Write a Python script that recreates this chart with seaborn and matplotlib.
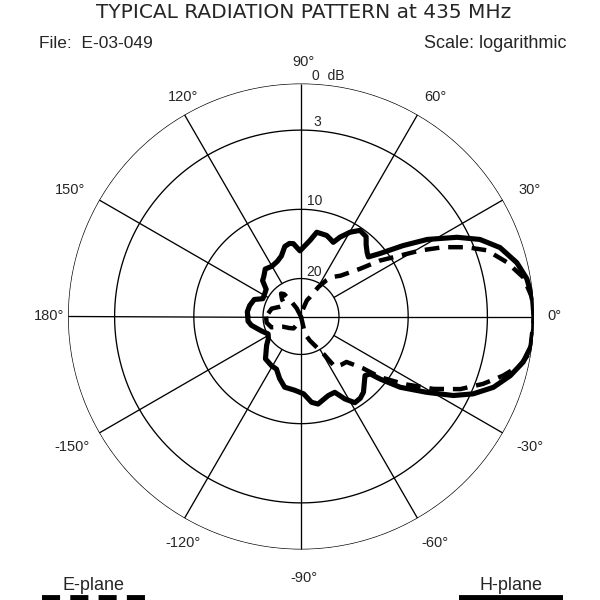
import numpy as np
import pandas as pd
import matplotlib
matplotlib.use("Agg")
import matplotlib.pyplot as plt
from matplotlib.lines import Line2D
import seaborn as sns

# ---------------- data ----------------
TITLE = "TYPICAL RADIATION PATTERN at 435 MHz"
FILE_LABEL = "File:  E-03-049"
SCALE_LABEL = "Scale: logarithmic"

# ring levels (dB below peak) and the logarithmic radius scale of the chart
RING_DB = [0, 3, 10, 20]
RING_LABELS = ["0  dB", "3", "10", "20"]
SCALE_DB = [0, 3, 10, 20, 30]
SCALE_R = [1.0, 0.80, 0.46, 0.163, 0.0]

ANGLE_TICKS = [0, 30, 60, 90, 120, 150, 180, -150, -120, -90, -60, -30]
ANGLE_LABELS = ["0°", "30°", "60°", "90°", "120°", "150°", "180°",
                "-150°", "-120°", "-90°", "-60°", "-30°"]

# H-plane (solid): angle in degrees, level in dB below peak
H_ANGLE = [-180, -175, -170, -160, -152, -146, -140, -130, -121, -115, -109, -103,
           -95, -88, -83, -79, -71, -66, -62, -58, -54, -50.5, -46, -42.7, -39.7,
           -38.3, -35.5, -31.1, -27.4, -24.2, -20.2, -15.8, -11.6, -7.2, -3, 0,
           4.4, 9.5, 14, 19.1, 23.3, 26.9, 31.4, 34.8, 38.6, 41.5, 44, 47.7, 50.8,
           55.6, 59.8, 63.8, 66.5, 69.5, 72.5, 79.4, 83.2, 90.9, 96, 99, 103, 108,
           113, 120, 127, 133, 137, 142, 148, 155, 160, 168, 175, 180]
H_DB = [17.8, 17.8, 18.2, 19.4, 20.2, 19.8, 19.0, 17.5, 17.2, 17.1, 16.0, 15.0,
        14.8, 14.3, 13.0, 12.6, 13.4, 13.5, 12.0, 10.8, 10.9, 11.3, 12.3, 12.9, 12.5,
        10.9, 8.7, 6.5, 4.3, 2.85, 1.8, 1.0, 0.4, 0.05, 0.0, 0.0,
        0.05, 0.26, 0.68, 1.44, 2.46, 4.0, 6.4, 8.5, 10.9, 12.5, 12.2, 11.5, 10.6,
        10.4, 11.4, 12.7, 13.8, 13.5, 13.2, 13.1, 14.4, 16.0, 14.9, 14.8, 15.1, 16.3,
        16.8, 17.1, 16.9, 17.6, 17.9, 19.1, 19.3, 19.4, 18.3, 17.9, 17.7, 17.8]

# E-plane (dashed)
E_ANGLE = [-180, -170, -160, -150, -135, -122, -115, -105, -85, -77, -70, -63, -59,
           -56, -50, -45, -40, -37.5, -33.3, -28.7, -24.5, -20.3, -16.3, -12.6,
           -8.9, 0, 5, 10, 14.8, 19.6, 22.7, 26, 29, 31.6, 35.3, 38.9, 46, 52, 55,
           59.5, 65, 70, 76, 80, 110, 118, 123, 127, 131, 138, 145, 155, 165, 180]
E_DB = [20.8, 20.8, 21.7, 24.6, 25.7, 26.3, 27.9, 35, 35, 25.3, 23.3, 20.9, 19.2,
        16.7, 16.4, 16.2, 13.9, 11.1, 8.6, 6.15, 4.0, 2.5, 1.44, 0.56,
        0.08, 0.0, 0.1, 0.47, 1.3, 2.3, 3.6, 5.5, 7.45, 9.2, 11.5, 14.5, 17.3, 18.25, 19.1,
        21.0, 24.3, 25.5, 28.2, 35, 35, 27.5, 25.3, 22.6, 22.0, 23.3, 24.8, 23.9, 22.0, 20.8]

LEGEND_E = "E-plane"
LEGEND_H = "H-plane"


def to_radius(db):
    return np.interp(np.asarray(db, dtype=float), SCALE_DB, SCALE_R)


# ---------------- figure ----------------
sns.set_style("white")
plt.rcParams["font.family"] = ["Liberation Sans", "DejaVu Sans"]

W = H = 600
fig = plt.figure(figsize=(6, 6), dpi=100)
cx, cy, R = 301, 316.5, 233
ax = fig.add_axes([(cx - R) / W, (H - cy - R) / H, 2 * R / W, 2 * R / H],
                  projection="polar")
ax.set_theta_zero_location("E")
ax.set_ylim(0, 1)
ax.grid(False)
ax.spines["polar"].set_visible(False)
ax.patch.set_alpha(0)

grid_kw = dict(color="black", lw=0.95, solid_capstyle="butt", zorder=1)
tt = np.linspace(0, 2 * np.pi, 721)
for d in RING_DB:
    r = float(to_radius(d))
    ax.plot(tt, np.full_like(tt, r), **grid_kw)
r_in = float(to_radius(20))
for a in ANGLE_TICKS:
    th = np.deg2rad(a)
    r0 = 0.0 if a % 90 == 0 else r_in
    ax.plot([th, th], [r0, 1.0], **grid_kw)

# ring labels along 90 deg
ring_off = {"0  dB": (11, 3), "3": (12, 4), "10": (6, 4), "20": (5, 3)}
for d, lab in zip(RING_DB, RING_LABELS):
    ax.annotate(lab, xy=(np.pi / 2, float(to_radius(d))), xytext=ring_off[lab],
                textcoords="offset pixels", ha="left", va="baseline",
                fontsize=10, annotation_clip=False)

# angle labels: offset (pixels, y up) of label centre from the tick's point on the outer ring
label_off = {0: (20, 0.5), 30: (27, 10), 60: (17.5, 17.5), 90: (3, 21.5),
             120: (-1.5, 17.5), 150: (-29, 10), 180: (-19, 0.5), -150: (-27, -14),
             -120: (-1.5, -24.5), -90: (3, -28.5), -60: (17.5, -24.5), -30: (27, -14)}
for a, lab in zip(ANGLE_TICKS, ANGLE_LABELS):
    ax.annotate(lab, xy=(np.deg2rad(a), 1.0), xytext=label_off[a],
                textcoords="offset pixels", ha="center", va="center",
                fontsize=10.5, annotation_clip=False)

# patterns
dfH = pd.DataFrame({"theta": np.deg2rad(H_ANGLE), "r": to_radius(H_DB)})
dfE = pd.DataFrame({"theta": np.deg2rad(E_ANGLE), "r": to_radius(E_DB)})
sns.lineplot(data=dfH, x="theta", y="r", ax=ax, color="black", lw=3.7,
             sort=False, estimator=None, zorder=3)
sns.lineplot(data=dfE, x="theta", y="r", ax=ax, color="black", lw=3.2,
             sort=False, estimator=None, zorder=3, linestyle=(0, (3.3, 2.0)))
ax.set_xlabel("")
ax.set_ylabel("")
ax.set_xticks([])
ax.set_yticks([])
ax.set_ylim(0, 1)


def fx(x):
    return x / W


def fy(y):
    return 1 - y / H


fig.text(fx(304), fy(12), TITLE, ha="center", va="center", fontsize=14.5,
         family="DejaVu Sans")
fig.text(fx(39), fy(44), FILE_LABEL, ha="left", va="center", fontsize=12.5)
fig.text(fx(566), fy(44), SCALE_LABEL, ha="right", va="center", fontsize=13)

fig.text(fx(94), fy(585), LEGEND_E, ha="center", va="center", fontsize=13)
fig.text(fx(511), fy(585), LEGEND_H, ha="center", va="center", fontsize=13)
fig.add_artist(Line2D([fx(42), fx(147)], [fy(598), fy(598)], color="black", lw=4.2,
                      linestyle=(0, (3.1, 1.75)), transform=fig.transFigure))
fig.add_artist(Line2D([fx(459), fx(563)], [fy(598), fy(598)], color="black", lw=4.2,
                      solid_capstyle="butt", transform=fig.transFigure))

fig.savefig("out.png", dpi=100)
